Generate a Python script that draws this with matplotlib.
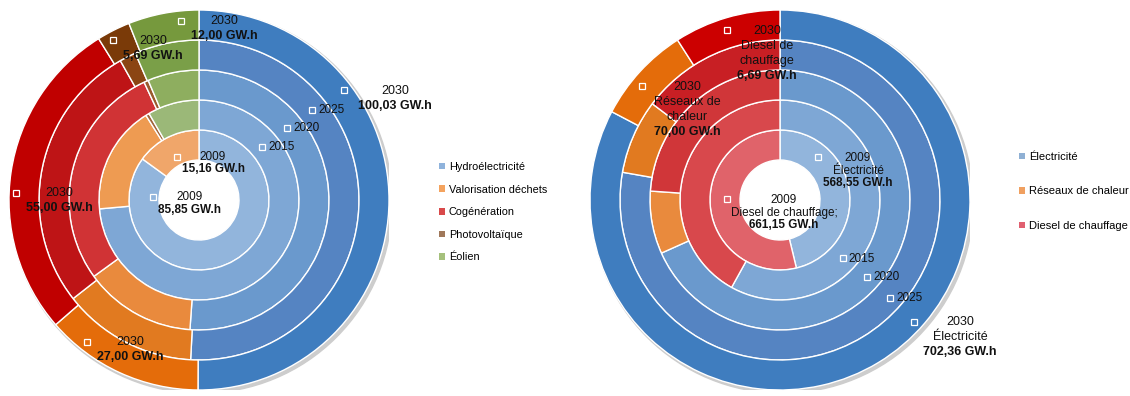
import matplotlib.pyplot as plt
from matplotlib.patches import Patch, Circle

plt.rcParams['font.family'] = ['Liberation Sans', 'DejaVu Sans']

# rings from inside to outside
years = ['2009', '2015', '2020', '2025', '2030']

# left chart (GW.h)
left_cats = ['Hydroélectricité', 'Valorisation déchets', 'Cogénération', 'Photovoltaïque', 'Éolien']
hydro = [85.85, 88.3, 92.0, 99.1, 100.03]
valor = [15.16, 21.0, 25.0, 26.5, 27.00]
cogen = [0, 0, 50.5, 53.4, 55.00]
pv = [0, 0.7, 1.0, 3.25, 5.69]
eolien = [0, 10.0, 11.5, 12.7, 12.00]

# right chart (GW.h)
right_cats = ['Électricité', 'Réseaux de chaleur', 'Diesel de chauffage']
elec = [568.55, 667.6, 683.0, 700.0, 702.36]
reseaux = [0, 0, 78.0, 67.5, 70.00]
diesel = [661.15, 482.4, 239.0, 132.5, 77.0]

# shades per ring (light inside -> dark outside)
blues = ['#92b5dc', '#7ea7d5', '#6a99cd', '#5584c2', '#3f7dbf']
oranges = ['#f0a66a', '#ee9b52', '#e98a3d', '#e17a20', '#e46c0a']
reds_l = ['#d9393b', '#d43436', '#d03335', '#be1416', '#c00000']
browns = ['#a0643a', '#a0643a', '#9a5a2c', '#8b4513', '#7a3a08']
greens = ['#9eba7a', '#9bb878', '#8eae5f', '#7a9f48', '#76993d']
reds_r = ['#e0636a', '#d8484c', '#d03639', '#c81f24', '#cc0000']

left_legend_cols = ['#8fb3dc', '#f4a35e', '#d9494a', '#a0785a', '#a5c07c']
right_legend_cols = ['#8fb0d4', '#f0a060', '#e06070']

W, H = 1130, 396
fig = plt.figure(figsize=(W / 100, H / 100), dpi=100)

R_OUT = 190.0
HOLE = 40 / R_OUT
RING_W = (1 - HOLE) / len(years)


def draw_rings(ax, series, shades):
    # soft shadow behind the outer ring, white hole in the middle
    ax.add_patch(Circle((0.012, -0.012), 1.005, color='#cdcdcd', zorder=0))
    ax.add_patch(Circle((0, 0), HOLE, color='white', zorder=0.5))
    for i in range(len(years)):
        vals, cols = [], []
        for s, c in zip(series, shades):
            if s[i] > 0:
                vals.append(s[i])
                cols.append(c[i])
        ax.pie(vals, colors=cols, radius=HOLE + RING_W * (i + 1),
               startangle=90, counterclock=False,
               wedgeprops=dict(width=RING_W, edgecolor='white', linewidth=1.0))
    ax.set_xlim(-1, 1)
    ax.set_ylim(-1, 1)
    ax.set_aspect('equal')
    ax.axis('off')


def pie_axes(cx, cy):
    return fig.add_axes([(cx - R_OUT) / W, (H - cy - R_OUT) / H, 2 * R_OUT / W, 2 * R_OUT / H])


ax1 = pie_axes(199, 200)
draw_rings(ax1, [hydro, valor, cogen, pv, eolien], [blues, oranges, reds_l, browns, greens])

ax2 = pie_axes(780, 200)
draw_rings(ax2, [elec, reseaux, diesel], [blues, oranges, reds_r])


def fx(x):
    return x / W


def fy(y):
    return 1 - y / H


def key(x, y, col):
    fig.lines.append(plt.Line2D([fx(x)], [fy(y)], marker='s', markersize=5,
                                markerfacecolor=col, markeredgecolor='white',
                                markeredgewidth=0.9, transform=fig.transFigure))


def label(x, y, lines, size=9):
    # lines: list of (text, bold)
    y0 = y
    for t, b in lines:
        fig.text(fx(x), fy(y0), t, ha='center', va='center', fontsize=size,
                 fontweight='bold' if b else 'normal', color='#111111')
        y0 += 15


def small(x, y, lines):
    y0 = y
    for t, b in lines:
        fig.text(fx(x), fy(y0), t, ha='center', va='center', fontsize=8.5,
                 fontweight='bold' if b else 'normal', color='#111111')
        y0 += 12.5


# left chart labels
key(181, 21, greens[4]); label(224, 21, [('2030', False), ('12,00 GW.h', True)])
key(113, 40, browns[4]); label(153, 41, [('2030', False), ('5,69 GW.h', True)])
key(344, 90, blues[4]); label(395, 91, [('2030', False), ('100,03 GW.h', True)])
key(16, 193, reds_l[4]); label(59, 193, [('2030', False), ('55,00 GW.h', True)])
key(87, 342, oranges[4]); label(130, 342, [('2030', False), ('27,00 GW.h', True)])
key(312, 110, blues[3]); label(332, 110, [('2025', False)], 8.5)
key(287, 128, blues[2]); label(307, 128, [('2020', False)], 8.5)
key(262, 147, blues[1]); label(282, 147, [('2015', False)], 8.5)
key(177, 157, oranges[0]); small(213, 157, [('2009', False), ('15,16 GW.h', True)])
key(153, 197, blues[0]); small(190, 197, [('2009', False), ('85,85 GW.h', True)])

# right chart labels
key(727, 30, reds_r[4]); label(767, 31, [('2030', False), ('Diesel de', False), ('chauffage', False), ('6,69 GW.h', True)])
key(642, 86, oranges[4]); label(687, 87, [('2030', False), ('Réseaux de', False), ('chaleur', False), ('70,00 GW.h', True)])
key(818, 157, blues[0]); small(858, 158, [('2009', False), ('Électricité', False), ('568,55 GW.h', True)])
key(727, 199, reds_r[0]); small(784, 200, [('2009', False), ('Diesel de chauffage;', False), ('661,15 GW.h', True)])
key(843, 258, blues[1]); label(862, 259, [('2015', False)], 8.5)
key(867, 277, blues[2]); label(887, 277, [('2020', False)], 8.5)
key(890, 298, blues[3]); label(910, 298, [('2025', False)], 8.5)
key(914, 322, blues[4]); label(960, 322, [('2030', False), ('Électricité', False), ('702,36 GW.h', True)])

# legends
h1 = [Patch(facecolor=c, edgecolor='none') for c in left_legend_cols]
fig.legend(h1, left_cats, loc='upper left', bbox_to_anchor=(fx(439), fy(162)), frameon=False,
           fontsize=7.8, handlelength=0.55, handleheight=0.55, handletextpad=0.35,
           labelspacing=1.16, borderpad=0, borderaxespad=0)
h2 = [Patch(facecolor=c, edgecolor='none') for c in right_legend_cols]
fig.legend(h2, right_cats, loc='upper left', bbox_to_anchor=(fx(1019), fy(152)), frameon=False,
           fontsize=8, handlelength=0.55, handleheight=0.55, handletextpad=0.35,
           labelspacing=2.2, borderpad=0, borderaxespad=0)

fig.savefig('out.png', dpi=100)
